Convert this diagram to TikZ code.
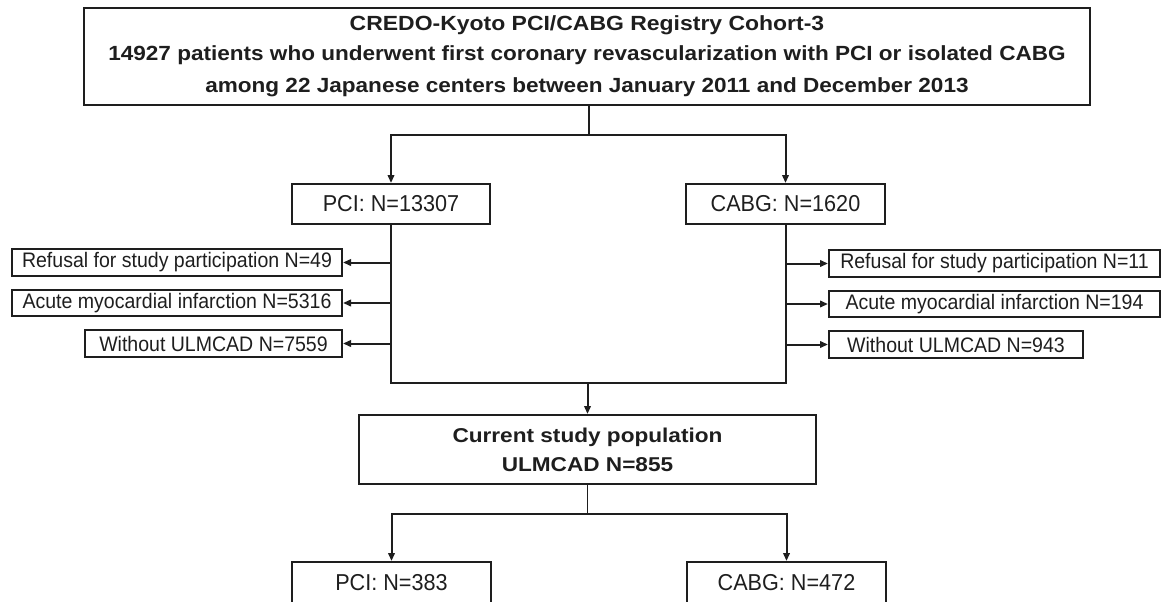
\documentclass[tikz,border=0pt]{standalone}
\usepackage{fontspec}
\usepackage{graphicx}
\setmainfont{Liberation Sans}
\usetikzlibrary{arrows.meta}

\definecolor{ink}{HTML}{1E1E1E}

% horizontally scaled text
\newcommand{\hx}[2]{\scalebox{#1}[1]{#2}}

\tikzset{
  box/.style={draw=ink, line width=2pt, rectangle, inner sep=0pt,
    text=ink, align=center},
  toptext/.style={font=\fontsize{20.5}{32}\selectfont\bfseries},
  cattext/.style={font=\fontsize{23}{26}\selectfont},
  sidetext/.style={font=\fontsize{21}{24}\selectfont},
  poptext/.style={font=\fontsize{20}{29}\selectfont\bfseries},
  link/.style={draw=ink, line width=2pt},
  thinlink/.style={draw=ink, line width=1.7pt},
  arr/.style={link, -{Triangle[length=8pt,width=6.5pt]}},
}

\begin{document}
\begin{tikzpicture}[x=1pt, y=-1pt]
  \useasboundingbox (0,0) rectangle (1164,602);
  \clip (0,0) rectangle (1164,602);

  % registry cohort
  \node[box, toptext, minimum width=1006, minimum height=97] (top) at (587,56.5)
    {\raisebox{-2pt}{\hx{1.12}{CREDO-Kyoto PCI/CABG Registry Cohort-3}}\\
     \hx{1.1}{14927 patients who underwent first coronary revascularization with PCI or isolated CABG}\\
     \hx{1.1}{among 22 Japanese centers between January 2011 and December 2013}};

  % revascularization groups
  \node[box, cattext, minimum width=198, minimum height=40] (pci) at (391,204) {\hx{0.94}{PCI: N=13307}};
  \node[box, cattext, minimum width=199, minimum height=40] (cabg) at (785.5,204) {\hx{0.94}{CABG: N=1620}};

  % exclusions, PCI side
  \node[box, sidetext, minimum width=330, minimum height=27] (lref) at (177,262.5)
    {\hx{0.93}{Refusal for study participation N=49}};
  \node[box, sidetext, minimum width=330, minimum height=26] (lami) at (177,303)
    {\hx{0.93}{Acute myocardial infarction N=5316}};
  \node[box, sidetext, minimum width=257, minimum height=27] (lwo) at (213.5,343.5)
    {\hx{0.93}{Without ULMCAD N=7559}};

  % exclusions, CABG side
  \node[box, sidetext, minimum width=331, minimum height=27] (rref) at (994.5,263.5)
    {\hx{0.93}{Refusal for study participation N=11}};
  \node[box, sidetext, minimum width=331, minimum height=26] (rami) at (994.5,304)
    {\hx{0.93}{Acute myocardial infarction N=194}};
  \node[box, sidetext, minimum width=254, minimum height=27] (rwo) at (956,344.5)
    {\hx{0.93}{Without ULMCAD N=943}};

  % study population
  \node[box, poptext, minimum width=457, minimum height=69] (cur) at (587.5,449.5)
    {\hx{1.13}{Current study population}\\ \hx{1.13}{ULMCAD N=855}};

  % final groups
  \node[box, cattext, minimum width=199, minimum height=42] (fpci) at (391.5,583) {\hx{0.94}{PCI: N=383}};
  \node[box, cattext, minimum width=199, minimum height=42] (fcabg) at (786.5,583) {\hx{0.94}{CABG: N=472}};

  % split of the cohort
  \coordinate (s1) at (589,135);
  \draw[thinlink] (top.south -| s1) -- (s1);
  \draw[arr] (s1) -| (pci.north);
  \draw[arr] (s1) -| (cabg.north);

  % trunks with exclusions
  \coordinate (jl) at (391,383);
  \coordinate (jr) at (785.5,383);
  \draw[link] (pci.south) -- (jl) -- (jr) -- (cabg.south);
  \draw[arr] (pci.south |- lref.east) -- (lref.east);
  \draw[arr] (pci.south |- lami.east) -- (lami.east);
  \draw[arr] (pci.south |- lwo.east) -- (lwo.east);
  \draw[arr] (cabg.south |- rref.west) -- (rref.west);
  \draw[arr] (cabg.south |- rami.west) -- (rami.west);
  \draw[arr] (cabg.south |- rwo.west) -- (rwo.west);

  % merge into the study population
  \coordinate (m1) at (587.5,383);
  \draw[arr] (m1) -- (cur.north);

  % split of the study population
  \coordinate (s2) at (587.5,514);
  \draw[thinlink] (cur.south) -- (s2);
  \draw[arr] (s2) -| (fpci.north);
  \draw[arr] (s2) -| (fcabg.north);
\end{tikzpicture}
\end{document}
